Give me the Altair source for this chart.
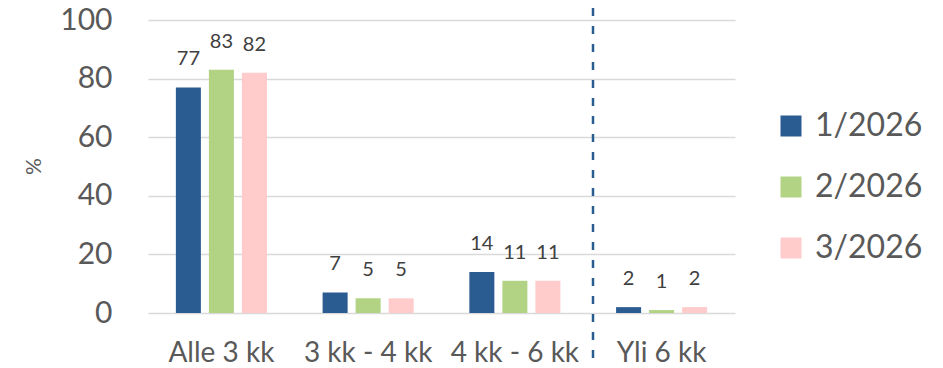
import altair as alt
import pandas as pd

categories = ["Alle 3 kk", "3 kk - 4 kk", "4 kk - 6 kk", "Yli 6 kk"]
series = ["1/2026", "2/2026", "3/2026"]
values_1 = [77, 7, 14, 2]
values_2 = [83, 5, 11, 1]
values_3 = [82, 5, 11, 2]
colors = ["#2A5B91", "#B2D384", "#FFCBCB"]
y_ticks = [0, 20, 40, 60, 80, 100]

rows = []
for s, vals in zip(series, [values_1, values_2, values_3]):
    for c, v in zip(categories, vals):
        rows.append({"cat": c, "series": s, "value": v})
df = pd.DataFrame(rows)

FONT = "Lato"
W, H = 587, 293

x = alt.X("cat:N", sort=categories, title=None,
          scale=alt.Scale(paddingInner=0.325, paddingOuter=0.1627),
          axis=alt.Axis(labelAngle=0, labelFontSize=28, labelColor="#595959",
                        labelFont=FONT, domain=False, ticks=False, labelPadding=26))
xo = alt.XOffset("series:N", sort=series,
                 scale=alt.Scale(paddingInner=0.2424, paddingOuter=0.1212))
y = alt.Y("value:Q", title="%",
          scale=alt.Scale(domain=[0, 100], nice=False),
          axis=alt.Axis(values=y_ticks, labelFontSize=30, labelColor="#595959",
                        labelFont=FONT, domain=False, ticks=False, labelPadding=36,
                        gridColor="#D9D9D9", gridWidth=1.3,
                        titleFont=FONT, titleFontSize=21, titleColor="#595959",
                        titleFontWeight="normal", titleX=-114, titleY=146,
                        titleAngle=-90, titleAlign="center", titleBaseline="middle"))

bars = alt.Chart(df).mark_bar().encode(
    x=x, xOffset=xo, y=y,
    color=alt.Color("series:N", sort=series,
                    scale=alt.Scale(domain=series, range=colors),
                    legend=alt.Legend(title=None, orient="none", legendX=627, legendY=90,
                                      symbolType="square", symbolSize=441,
                                      symbolStrokeWidth=0, symbolOpacity=1,
                                      labelFontSize=32, labelFont=FONT,
                                      labelColor="#595959", rowPadding=29,
                                      labelOffset=8, padding=0)),
)

labels = alt.Chart(df).mark_text(baseline="bottom", dy=-18, fontSize=20,
                                 font=FONT, color="#404040").encode(
    x=alt.X("cat:N", sort=categories), xOffset=alt.XOffset("series:N", sort=series),
    y="value:Q", text="value:Q",
)

divider = alt.Chart(pd.DataFrame({"d": [0]})).mark_rule(
    color="#2A5B91", strokeWidth=2.5, strokeDash=[8, 10]).encode(
    x=alt.value(445), y=alt.value(-12), y2=alt.value(H + 45))

chart = alt.layer(bars, labels, divider).properties(
    width=W, height=H,
    autosize=alt.AutoSizeParams(type="none"),
    padding={"left": 140, "top": 12, "right": 200, "bottom": 60},
).configure_view(stroke=None)

chart.save("out.html", embed_options={"renderer": "svg", "actions": False})
